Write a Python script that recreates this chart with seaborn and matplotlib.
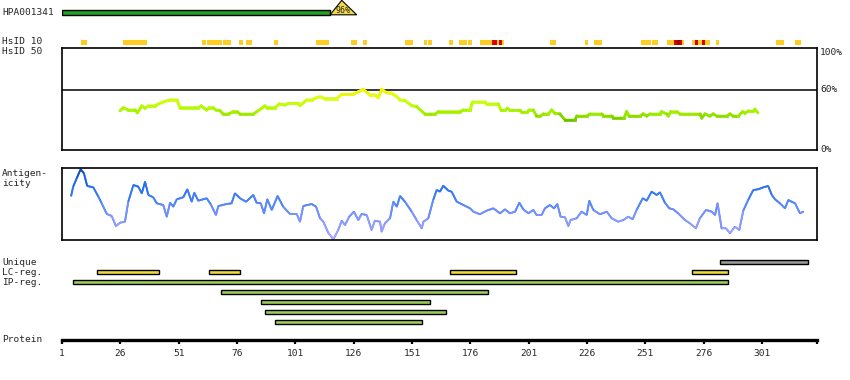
import numpy as np
import matplotlib
matplotlib.use("Agg")
import matplotlib.pyplot as plt
import seaborn as sns
from matplotlib.collections import LineCollection
from matplotlib.colors import LinearSegmentedColormap
from matplotlib.patches import Polygon

# ---- data (residue positions) ----
seq_len = 324.6
hpa_name = "HPA001341"
hpa_end = 115.9
hpa_pct = "96%"
hpa_tri = (115.9, 120.9, 127.3)

# HsID 10 blocks: start, end, level (0 = low, 1 = high, 2 = highest)
hs10_start = [9, 27, 61, 63, 70, 77, 80, 92, 110, 125, 130, 148, 156, 158, 167, 171, 175,
              180, 185.3, 187.4, 188.3, 189.6, 210, 225, 229, 249, 254,
              260.3, 263.3, 264.6, 265.9, 266.7, 271.0, 272.3, 273.6, 275.3, 276.6,
              281.3, 307.0, 315.1]
hs10_end = [11.7, 37.4, 62.7, 69.6, 73.4, 78.6, 82.4, 93.6, 115.4, 127.4, 131.7, 151.4, 157.4,
            159.6, 168.6, 174.6, 176.7, 185.3, 187.4, 188.3, 189.6, 190.4, 212.7, 226.4, 232.4,
            253.4, 256.4, 263.3, 264.6, 265.9, 266.7, 267.6, 272.3, 273.6, 275.3, 276.6, 278.7,
            282.6, 310.4, 317.7]
hs10_level = [0, 0, 0, 0, 0, 0, 0, 0, 0, 0, 0, 0, 0, 0, 0, 0, 0,
              0, 1, 0, 1, 0, 0, 0, 0, 0, 0,
              0, 1, 2, 1, 0, 0, 1, 0, 1, 0,
              0, 0, 0]

# HsID 50 identity curve (%)
hs50_res = [25.9, 27.3, 29.4, 32.3, 33.3, 35.2, 36.6, 38.0, 40.9, 42.3, 44.4, 47.3, 50.2, 51.6,
            59.4, 60.6, 63.0, 64.1, 65.8, 67.0, 68.7, 70.1, 72.3, 74.4, 76.1, 77.3, 83.0, 85.1,
            88.0, 88.7, 92.3, 94.1, 96.6, 98.0, 102.3, 103.0, 105.9, 108.0, 109.4, 111.6, 113.7,
            118.7, 120.9, 125.8, 128.0, 130.1, 133.0, 135.1, 136.6, 138.0, 140.2, 142.3, 144.5,
            145.9, 148.0, 150.9, 153.0, 156.6, 158.7, 160.9, 162.3, 171.6, 173.0, 175.9, 177.0,
            182.3, 183.0, 188.0, 189.2, 190.9, 191.9, 193.0, 197.3, 198.0, 200.2, 201.3, 203.0,
            204.4, 205.9, 207.3, 209.4, 210.9, 212.3, 214.4, 216.6, 220.9, 221.6, 225.9, 227.3,
            232.3, 233.0, 236.6, 237.3, 241.9, 243.0, 244.1, 248.7, 250.1, 251.6, 253.0, 257.3,
            258.0, 260.2, 260.9, 261.9, 264.5, 265.9, 274.4, 275.2, 276.6, 278.7, 280.1, 281.6,
            285.9, 287.3, 288.7, 290.9, 292.7, 293.7, 295.1, 297.3, 298.0, 299.2]
hs50_pct = [38.6, 41.6, 39.3, 39.3, 36.7, 43.3, 41.0, 43.3, 43.3, 45.2, 47.2, 49.2, 49.2, 41.6,
            41.6, 43.3, 39.3, 41.6, 41.6, 39.3, 38.6, 35.4, 35.4, 37.7, 37.7, 35.4, 35.4, 38.6,
            43.3, 41.6, 41.6, 45.2, 44.2, 45.9, 45.9, 43.6, 49.2, 49.2, 50.8, 52.4, 50.4,
            50.4, 54.8, 54.8, 57.3, 59.7, 54.1, 54.1, 51.4, 59.7, 56.3, 55.8, 52.4,
            49.2, 48.5, 43.6, 42.6, 35.4, 35.4, 35.4, 37.7, 37.7, 39.3, 39.3, 47.2,
            47.2, 45.2, 45.2, 39.0, 39.0, 41.0, 39.0, 39.0, 37.1, 37.1, 39.3, 39.3,
            33.4, 33.1, 35.4, 35.4, 39.3, 36.1, 35.4, 29.5, 29.5, 33.4, 33.4, 35.4,
            35.4, 33.4, 33.4, 31.5, 31.5, 37.7, 33.4, 33.4, 35.4, 33.4, 35.4, 35.4,
            37.7, 35.4, 33.4, 37.7, 37.7, 35.4, 35.4, 31.5, 35.4, 33.4, 35.4, 33.4,
            33.4, 35.4, 33.4, 33.4, 37.7, 36.1, 38.3, 38.3, 40.0, 36.7]

# Antigenicity profile (relative units, 0-100)
ag_res = [4.9, 5.8, 7.3, 9.0, 10.4, 11.8, 14.4, 16.6, 18.0, 20.2, 22.3, 24.1, 25.9, 28.0, 29.4,
          31.6, 33.7, 35.2, 36.6, 38.0, 40.1, 41.6, 44.4, 45.9, 47.3, 48.7, 50.2, 53.0, 54.7,
          56.6, 57.7, 59.4, 63.0, 64.7, 67.0, 68.0, 71.6, 73.7, 75.1, 77.3, 79.9, 83.0, 84.4,
          86.2, 87.6, 89.0, 90.9, 93.4, 95.8, 98.7, 101.6, 103.0, 104.4, 108.0, 109.9, 111.6,
          113.0, 115.1, 117.3, 119.4, 120.9, 122.3, 124.1, 126.1, 128.0, 129.4, 131.6, 133.7,
          135.1, 137.3, 138.0, 139.4, 141.6, 143.0, 144.5, 145.9, 148.0, 150.9, 153.0, 155.2,
          155.9, 158.0, 160.1, 161.6, 163.0, 164.4, 166.6, 168.0, 170.2, 173.0, 175.9, 177.3,
          180.1, 183.0, 185.9, 188.7, 190.9, 193.0, 195.2, 197.0, 198.7, 200.9, 203.0, 204.4,
          206.6, 208.0, 210.1, 211.9, 213.3, 214.7, 216.6, 218.0, 219.0, 221.6, 223.7, 225.9,
          227.0, 228.7, 231.6, 234.5, 236.6, 239.4, 241.6, 243.7, 245.6, 247.3, 249.9, 251.6,
          253.7, 255.9, 257.3, 259.4, 261.3, 263.0, 265.1, 268.0, 270.1, 272.7, 274.4, 277.0,
          279.5, 280.9, 282.0, 283.7, 285.6, 287.3, 289.4, 291.3, 293.0, 295.1, 297.3, 299.4,
          301.6, 303.7, 305.2, 306.6, 308.7, 310.9, 312.3, 313.7, 315.2, 317.3, 318.7]
ag_val = [61.4, 74.4, 86.1, 98.6, 93.0, 75.3, 73.5, 60.4, 51.2, 36.3, 33.5, 19.5, 24.1, 25.5, 53.4,
          76.7, 74.4, 65.1, 81.3, 62.8, 59.6, 51.2, 48.8, 32.5, 52.0, 46.5, 56.8, 59.6, 70.7,
          53.4, 66.0, 54.8, 58.2, 50.2, 34.9, 47.4, 50.2, 51.2, 65.1, 58.2, 53.4, 62.8, 52.0,
          51.2, 37.2, 56.8, 41.9, 61.4, 46.5, 36.3, 36.3, 25.5, 47.4, 50.2, 46.5, 30.3,
          25.5, 10.2, 1.0, 14.0, 26.9, 20.9, 32.5, 39.5, 27.9, 36.3, 34.9, 14.0,
          26.9, 25.5, 11.6, 23.3, 30.3, 53.4, 46.5, 61.4, 53.4, 39.5, 27.9, 16.3,
          25.5, 30.3, 55.8, 69.8, 67.4, 75.7, 68.8, 67.4, 53.4, 48.8, 44.2, 39.5,
          35.9, 40.9, 44.2, 37.2, 42.8, 37.2, 39.5, 52.0, 42.8, 37.2, 41.9, 34.9,
          34.9, 44.2, 48.8, 44.2, 50.2, 32.5, 31.7, 19.5, 27.9, 30.3, 39.5, 34.9,
          54.8, 41.9, 35.9, 39.5, 30.3, 25.5, 27.9, 32.5, 28.9, 41.9, 58.2, 54.8,
          67.4, 62.8, 66.5, 52.0, 44.2, 42.8, 37.2, 27.9, 23.3, 16.3, 30.3, 41.9,
          39.5, 34.9, 51.2, 16.3, 16.3, 9.3, 18.6, 14.0, 40.9, 55.8, 69.8, 70.7,
          73.5, 75.3, 62.8, 56.8, 51.2, 44.2, 55.8, 53.4, 51.2, 37.2, 39.5]

# region features
unique_start = [283.0]
unique_end = [320.6]
lc_start = [16.1, 64.1, 167.4, 271.1]
lc_end = [42.4, 77.4, 195.4, 286.3]
ip_start = [5.6, 69.3, 86.4, 88.1, 92.4]
ip_end = [286.3, 183.4, 158.6, 165.4, 155.4]

tick_pos = [1, 26, 51, 76, 101, 126, 151, 176, 201, 226, 251, 276, 301]

# ---- figure ----
sns.set_theme(style="white")
plt.rcParams["font.family"] = ["DejaVu Sans Mono"]
FS = 6.8

W_PX, H_PX = 850, 380
fig = plt.figure(figsize=(8.5, 3.8), dpi=100)
fig.patch.set_facecolor("white")

L = 62 / W_PX
WID = (817 - 62) / W_PX


def band(top, bottom):
    return [L, 1 - bottom / H_PX, WID, (bottom - top) / H_PX]


def label(x, y, s, **kw):
    fig.text(x / W_PX, 1 - y / H_PX, s, fontsize=FS, va="center", ha="left", **kw)


# top strip: antigen bar + HsID 10
ax_top = fig.add_axes(band(0, 47))
ax_top.set_xlim(1, seq_len)
ax_top.set_ylim(47, 0)
ax_top.axis("off")
ax_top.barh([12.5], [hpa_end - 1], left=[1], height=4.5, color="#22a022",
            edgecolor="black", linewidth=1)
tri = Polygon([(hpa_tri[0], 14.8), (hpa_tri[1], 0.3), (hpa_tri[2], 14.8)],
              closed=True, facecolor="#f0d84a", edgecolor="black", linewidth=0.8)
ax_top.add_patch(tri)
ax_top.text(hpa_tri[1] + 0.6, 10.2, hpa_pct, fontsize=6, ha="center", va="center")

hs10_cols = ["#ffcc22", "#dd0000", "#a00000"]
for s, e, lv in zip(hs10_start, hs10_end, hs10_level):
    ax_top.barh([42.5], [e - s], left=[s], height=5, color=hs10_cols[lv], linewidth=0)

# HsID 50 panel
ax50 = fig.add_axes(band(48.3, 150))
ax50.set_xlim(1, seq_len)
ax50.set_ylim(0, 100)
ax50.axhline(59, color="black", lw=1.1)
sns.lineplot(x=hs50_res, y=hs50_pct, ax=ax50, color="#b4f000", lw=1.9, sort=False)
cmap50 = LinearSegmentedColormap.from_list(
    "id", [(0, "#66bb00"), (0.2, "#99ea00"), (0.45, "#b8ff00"), (0.75, "#e4ff10"), (1, "#ffee00")])
pts = np.column_stack([hs50_res, hs50_pct])
segs = np.stack([pts[:-1], pts[1:]], axis=1)
mid = (np.array(hs50_pct[:-1]) + np.array(hs50_pct[1:])) / 2
lc = LineCollection(segs, colors=cmap50(np.clip((mid - 29) / 31, 0, 1)), linewidths=1.9,
                    capstyle="projecting")
ax50.add_collection(lc)
ax50.set_xticks([])
ax50.set_yticks([])
ax50.set_xlabel("")
ax50.set_ylabel("")
for sp in ax50.spines.values():
    sp.set_color("black")
    sp.set_linewidth(1.2)
ax50.text(1.004, 1.0, "100%", transform=ax50.transAxes, fontsize=FS, va="top", ha="left")
ax50.text(1.004, 0.59, "60%", transform=ax50.transAxes, fontsize=FS, va="center", ha="left")
ax50.text(1.004, 0.0, "0%", transform=ax50.transAxes, fontsize=FS, va="center", ha="left")

# antigenicity panel
axag = fig.add_axes(band(168.3, 240))
axag.set_xlim(1, seq_len)
axag.set_ylim(0, 100)
sns.lineplot(x=ag_res, y=ag_val, ax=axag, color="#4c84f4", lw=1.3, sort=False)
cmapag = LinearSegmentedColormap.from_list(
    "ag", [(0, "#b4a8ff"), (0.3, "#8c98ff"), (0.55, "#4a84f6"), (0.8, "#1a6aee"), (1, "#0a3f9a")])
pts = np.column_stack([ag_res, ag_val])
segs = np.stack([pts[:-1], pts[1:]], axis=1)
mid = (np.array(ag_val[:-1]) + np.array(ag_val[1:])) / 2
lc = LineCollection(segs, colors=cmapag(mid / 100), linewidths=1.3)
axag.add_collection(lc)
axag.set_xticks([])
axag.set_yticks([])
axag.set_xlabel("")
axag.set_ylabel("")
for sp in axag.spines.values():
    sp.set_color("black")
    sp.set_linewidth(1.2)

# features + protein axis
axb = fig.add_axes(band(252, 339.5))
axb.set_xlim(1, seq_len)
axb.set_ylim(339.5, 252)
for sp in ["top", "left", "right"]:
    axb.spines[sp].set_visible(False)
axb.spines["bottom"].set_linewidth(2.4)
axb.spines["bottom"].set_color("black")
axb.set_yticks([])
axb.set_xticks(tick_pos + [seq_len])
axb.set_xticklabels([str(t) for t in tick_pos] + [""], fontsize=FS)
axb.tick_params(axis="x", direction="out", length=3, width=1.6, color="black", pad=4,
                bottom=True)

bar_kw = dict(height=4, edgecolor="black", linewidth=1)
axb.barh([262.3] * len(unique_start), np.array(unique_end) - np.array(unique_start),
         left=unique_start, color="#999999", **bar_kw)
axb.barh([272.3] * len(lc_start), np.array(lc_end) - np.array(lc_start),
         left=lc_start, color="#eedc3c", **bar_kw)
ip_rows = [282.3, 292.3, 302.3, 312.3, 322.3]
axb.barh(ip_rows, np.array(ip_end) - np.array(ip_start), left=ip_start,
         color="#9ccc5a", **bar_kw)

# left labels
label(2, 12.5, hpa_name)
label(2, 42, "HsID 10")
label(2, 52, "HsID 50")
label(2, 173, "Antigen-")
label(2, 183, "icity")
label(2, 262.5, "Unique")
label(2, 272.5, "LC-reg.")
label(2, 282.5, "IP-reg.")
label(2, 339.5, "Protein")

fig.savefig("out.png", dpi=100, facecolor="white")
